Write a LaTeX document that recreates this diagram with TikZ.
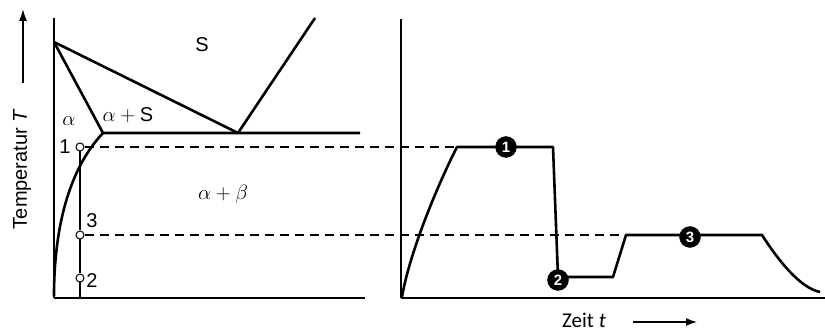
\documentclass[tikz,border=0pt]{standalone}
\usepackage{fontspec}
\setmainfont{Liberation Sans}
\newfontfamily\zeitfont{Carlito}
\usetikzlibrary{arrows.meta, positioning}

\begin{document}
\begin{tikzpicture}[x=1pt, y=-1pt,
  thickline/.style={line width=2.6pt, line join=round},
  thinline/.style={line width=1.2pt},
  dashline/.style={line width=1.4pt, dash pattern=on 9pt off 6pt},
  opendot/.style={circle, draw, line width=1pt, fill=white, inner sep=0pt, minimum size=8pt},
  stagedot/.style={circle, fill=black, draw=black, inner sep=0pt, minimum size=21pt,
    text=white, font=\bfseries\fontsize{15}{15}\selectfont},
  lbl/.style={font=\fontsize{20}{22}\selectfont, inner sep=0pt}]
\useasboundingbox (0,0) rectangle (825,331);

% left: phase diagram
\coordinate (O1) at (54,298);
\coordinate (Y1) at (54,18);
\coordinate (X1) at (365,298);
\coordinate (TA) at (54,42);
\coordinate (Sa) at (103,133);
\coordinate (E) at (238,133);
\coordinate (Eend) at (360,133);
\coordinate (Ltop) at (315,18);
\coordinate (Abot) at (80,298);

\draw[line width=1.9pt] (Y1) -- (O1);
\draw[thickline] (O1) -- (X1);
\draw[thickline] (TA) -- (E) -- (Ltop);
\draw[thickline] (TA) -- (Sa) -- (Eend);
\draw[thickline] (Sa) .. controls (68,170) and (54,230) .. (54,296);

\node[opendot] (p1) at (80,147) {};
\node[opendot] (p3) at (80,235) {};
\node[opendot] (p2) at (80,278) {};
\draw[thinline] (p1) -- (p3) -- (p2) -- (Abot);

\node[lbl] at (65,147) {1};
\node[lbl] at (92,221) {3};
\node[lbl] at (92,281) {2};
\node[lbl] at (202,45) {S};
\node[lbl] at (69,121) {$\alpha$};
\node[lbl] at (128,115) {$\alpha + \mathrm{S}$};
\node[lbl] at (223,194) {$\alpha + \beta$};

\draw[-{Latex[length=12pt,width=8pt]}, line width=1.6pt] (23,83) -- (23,9);
\node[lbl, rotate=90, font=\fontsize{20}{22}\selectfont] at (22,169) {Temperatur \textit{T}};

% right: time-temperature path
\coordinate (O2) at (401,298);
\coordinate (Y2) at (401,19);
\coordinate (X2) at (825,298);
\coordinate (h1) at (457,147);
\coordinate (h1e) at (553,147);
\coordinate (h2) at (558,277);
\coordinate (h2e) at (613,277);
\coordinate (h3) at (626,235);
\coordinate (h3e) at (762,235);
\coordinate (hend) at (820,292);

\draw[thinline] (Y2) -- (O2);
\draw[thickline] (O2) -- (X2);

\draw[dashline] (p1) -- (h1);
\draw[dashline] (p3) -- (h3);

\draw[thickline] (402,297) .. controls (410,250) and (440,180) .. (h1)
  -- (h1e) -- (h2) -- (h2e) -- (h3) -- (h3e)
  .. controls (778,260) and (800,288) .. (hend);

\node[stagedot] (n1) at (506,147) {1};
\node[stagedot] (n2) at (558,280) {2};
\node[stagedot] (n3) at (690,237) {3};

\node[font=\zeitfont\fontsize{21}{22}\selectfont, inner sep=0pt, anchor=base] (zeit) at (584,327) {Zeit \textit{t}};
\coordinate (ta) at (633,322);
\coordinate (tb) at (697,322);
\draw[-{Latex[length=11pt,width=8pt]}, line width=1.3pt] (ta) -- (tb);
\end{tikzpicture}
\end{document}
